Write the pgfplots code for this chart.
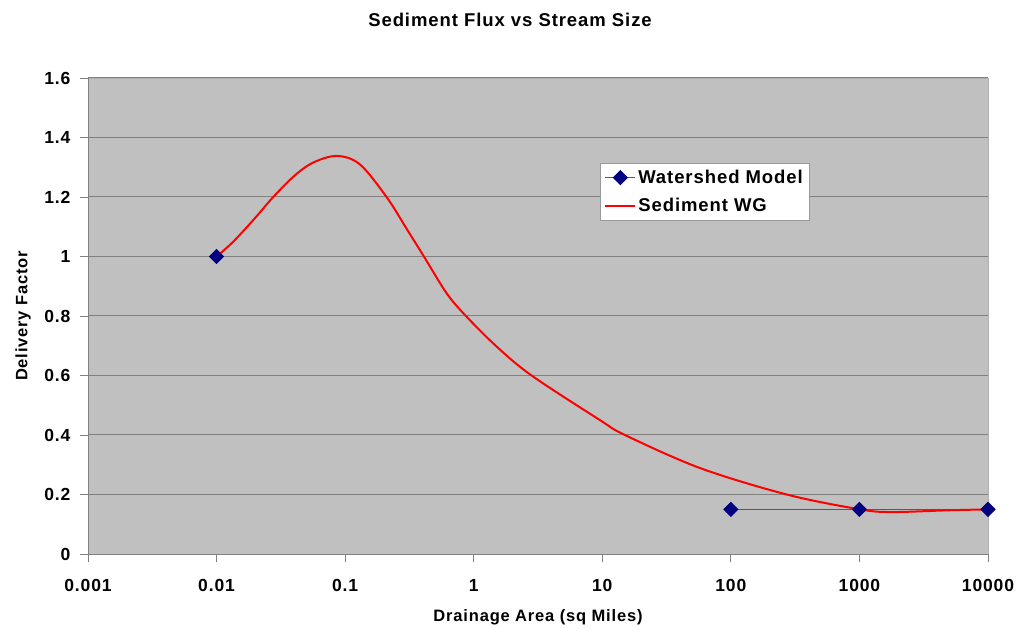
\documentclass[border=0pt]{standalone}
\usepackage{pgfplots}
\pgfplotsset{compat=1.18}
\usepackage{fontspec}
\setmainfont{Liberation Sans}[LetterSpace=5]
\definecolor{plotbg}{HTML}{C0C0C0}
\definecolor{gridgray}{HTML}{808080}
\definecolor{wsnavy}{HTML}{000080}
\definecolor{wsline}{HTML}{4F4FA8}

\begin{document}
\begin{tikzpicture}
  \begin{axis}[
      at={(0,0)}, anchor=south west,
      width=900pt, height=476pt, scale only axis,
      xmode=log,
      xmin=0.001, xmax=10000, ymin=0, ymax=1.6,
      xtick={0.001,0.01,0.1,1,10,100,1000,10000},
      xticklabels={0.001,0.01,0.1,1,10,100,1000,10000},
      ytick={0,0.2,0.4,0.6,0.8,1,1.2,1.4,1.6},
      yticklabels={0,0.2,0.4,0.6,0.8,1,1.2,1.4,1.6},
      xminorticks=false, yminorticks=false,
      axis lines*=left,
      axis line style={-, draw=gridgray, line width=0.8pt},
      xtick pos=bottom, ytick pos=left,
      tick align=outside, major tick length=8pt,
      tick style={draw=gridgray, line width=0.8pt},
      ymajorgrids, grid style={draw=gridgray, line width=1pt},
      axis background/.style={fill=plotbg, draw=gray!60},
      ticklabel style={font=\fontsize{17.5}{20}\selectfont\bfseries},
      xticklabel style={yshift=-14pt},
      yticklabel style={xshift=-6pt},
      xlabel={Drainage Area (sq Miles)},
      ylabel={Delivery Factor},
      label style={font=\fontsize{16.5}{19}\selectfont\bfseries},
      xlabel style={at={(rel axis cs:0.5,0)}, anchor=center, yshift=-63pt},
      ylabel style={at={(rel axis cs:0,0.5)}, anchor=center, yshift=65pt},
      legend style={at={(rel axis cs:0.569,0.8214)}, anchor=north west,
        draw=gray!80, fill=white, font=\fontsize{18.5}{22}\selectfont\bfseries,
        inner xsep=4pt, inner ysep=5pt, row sep=9pt, legend cell align=left},
      legend image code/.code={
        \draw[mark repeat=2, mark phase=2, #1]
          plot coordinates {(0pt,0pt) (15pt,0pt) (30pt,0pt)};},
      unbounded coords=jump,
      clip=false,
    ]
    \addplot[color=wsline, line width=1.2pt, mark=square*, mark size=4.8pt,
      mark options={fill=wsnavy, draw=wsnavy, solid, rotate=45}] coordinates {
      (0.01,1.0) (0.1,nan) (1,nan) (10,nan)
      (100,0.15) (1000,0.15) (10000,0.15)
    };
    \addlegendentry{Watershed Model}
    \addplot[color=red, line width=2pt, smooth, tension=0.55] coordinates {
      (0.01,1.0) (0.0135,1.05) (0.02,1.13) (0.0276,1.2) (0.04,1.27)
      (0.056,1.315) (0.086,1.338) (0.13,1.31) (0.21,1.2)
      (0.302,1.092) (0.41,1.0) (0.617,0.876) (0.87,0.8) (1.51,0.697)
      (2.82,0.6) (9.6,0.45) (15,0.4) (57.5,0.289)
      (272,0.2) (980,0.151) (1740,0.141) (5000,0.147) (10000,0.15)
    };
    \addlegendentry{Sediment WG}
  \end{axis}
  \node[font=\fontsize{18.5}{22}\selectfont\bfseries] at (422pt,534pt) {Sediment Flux vs Stream Size};
  \pgfresetboundingbox
  \path[use as bounding box] (-88pt,-74pt) rectangle (928pt,554pt);
\end{tikzpicture}
\end{document}
